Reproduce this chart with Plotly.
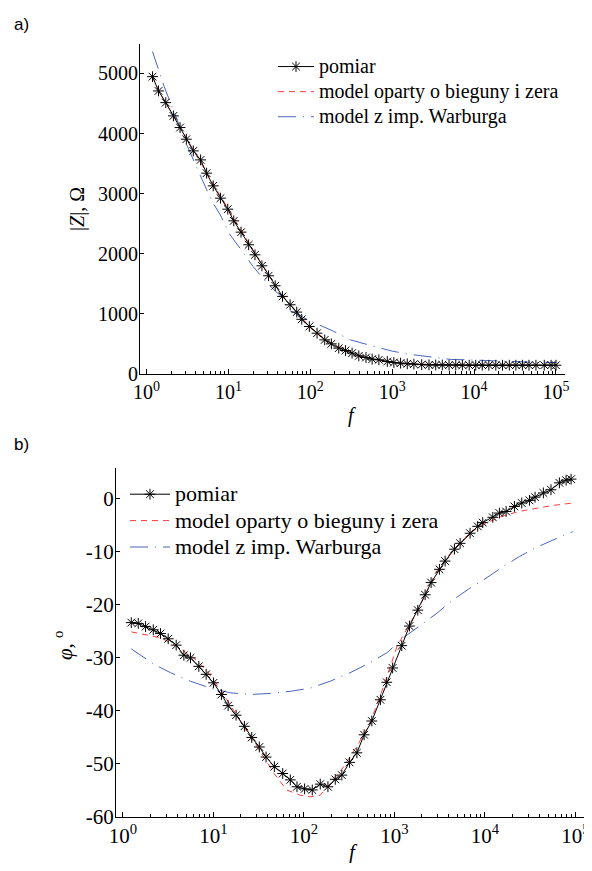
import numpy as np
import plotly.graph_objects as go

# page body has an 8px margin, so the figure is shifted by OFF px
OFF = 8
W, H = 592 - OFF, 871 - 2 * OFF

# ---------------- data: panel a) |Z| ----------------
logf_mag_meas = [0.073, 0.146, 0.235, 0.328, 0.409, 0.486, 0.571, 0.66, 0.733, 0.814,
                 0.903, 0.992, 1.065, 1.154, 1.247, 1.324, 1.409, 1.49, 1.571, 1.66,
                 1.753, 1.834, 1.895, 1.988, 2.082, 2.176, 2.257, 2.347, 2.429, 2.51,
                 2.592, 2.68, 2.755, 2.837, 2.94, 3.02, 3.102, 3.184, 3.265, 3.36,
                 3.449, 3.531, 3.612, 3.694, 3.776, 3.857, 3.94, 4.02, 4.1, 4.18,
                 4.265, 4.347, 4.43, 4.51, 4.59, 4.67, 4.755, 4.857, 4.94, 5.0]
Z_meas = [4947, 4709, 4515, 4294, 4100, 3906, 3712, 3562, 3341, 3130,
          2925, 2742, 2548, 2360, 2150, 1983, 1800, 1634, 1468, 1291,
          1152, 1030, 910, 790, 679, 568, 502, 430, 391, 347,
          302, 275, 247, 236, 208, 191, 180, 169, 164, 156,
          152, 150, 150, 148, 148, 147, 146, 146, 146, 146,
          146, 146, 146, 146, 146, 146, 146, 146, 146, 146]

logf_mag_pz = [0.07, 0.2, 0.4, 0.6, 0.8, 1.0, 1.2, 1.4, 1.6, 1.8, 2.0, 2.2, 2.4,
               2.6, 2.8, 3.0, 3.2, 3.5, 4.0, 4.5, 5.0]
Z_pz = [4950, 4590, 4130, 3650, 3190, 2740, 2290, 1840, 1420, 1070, 780, 555, 410,
        305, 240, 195, 172, 158, 150, 148, 148]

logf_mag_w = [0.073, 0.126, 0.215, 0.287, 0.377, 0.5, 0.68, 0.8, 0.9, 1.02, 1.17,
              1.3, 1.47, 1.66, 1.73, 2.06, 2.27, 2.49, 2.755, 3.0, 3.2, 3.49, 3.72,
              3.96, 4.22, 4.47, 4.7, 5.0]
Z_w = [5363, 5141, 4781, 4532, 4220, 3784, 3230, 2870, 2648, 2316, 2040,
       1790, 1512, 1270, 1066, 845, 720, 568, 468, 380, 330, 280, 242,
       234, 225, 208, 195, 191]

# ---------------- data: panel b) phase ----------------
logf_ph_meas = [0.092, 0.169, 0.25, 0.335, 0.415, 0.5, 0.588, 0.673, 0.746, 0.838,
                0.919, 1.0, 1.088, 1.162, 1.25, 1.342, 1.423, 1.507, 1.581, 1.673,
                1.765, 1.849, 1.923, 2.007, 2.092, 2.18, 2.265, 2.346, 2.419, 2.504,
                2.585, 2.665, 2.75, 2.845, 2.915, 2.98, 3.081, 3.166, 3.258, 3.339,
                3.405, 3.497, 3.56, 3.663, 3.726, 3.836, 3.92, 3.976, 4.087, 4.16,
                4.234, 4.326, 4.407, 4.492, 4.554, 4.646, 4.73, 4.823, 4.897, 4.952]
phi_meas = [-23.35, -23.5, -24.1, -24.7, -25.4, -26.4, -27.6, -29.5, -30.0, -31.6,
            -33.1, -34.7, -36.9, -39.0, -40.8, -42.9, -45.0, -46.8, -48.7, -50.5,
            -51.8, -53.0, -54.3, -54.7, -54.9, -53.8, -54.3, -52.9, -52.1, -49.7,
            -47.9, -44.5, -41.9, -37.9, -34.6, -31.9, -27.7, -24.0, -21.0, -18.1,
            -15.8, -13.3, -11.75, -9.5, -8.4, -6.5, -5.2, -4.5, -3.5, -2.7,
            -2.4, -1.45, -0.8, -0.3, 0.3, 1.1, 1.7, 3.0, 3.5, 3.7]

logf_ph_pz = [0.092, 0.23, 0.415, 0.6, 0.78, 0.93, 1.08, 1.22, 1.37, 1.52, 1.67,
              1.81, 1.96, 2.07, 2.18, 2.29, 2.44, 2.585, 2.73, 2.88, 3.03, 3.09,
              3.276, 3.46, 3.645, 3.83, 4.01, 4.2, 4.38, 4.565, 4.75, 4.97]
phi_pz = [-25.1, -25.6, -26.2, -27.8, -30.0, -32.5, -36.0, -39.8, -43.9, -47.7, -51.8,
          -54.9, -55.9, -56.2, -55.9, -53.7, -50.5, -46.7, -42.3, -35.4, -27.8, -26.0,
          -20.4, -13.8, -9.7, -6.5, -4.6, -3.2, -2.4, -1.8, -1.26, -0.8]

logf_ph_w = [0.092, 0.342, 0.526, 0.746, 0.967, 1.19, 1.41, 1.63, 1.85, 2.07, 2.29,
             2.51, 2.73, 2.92, 3.09, 3.276, 3.46, 3.645, 3.83, 4.01, 4.2, 4.38,
             4.565, 4.75, 4.97]
phi_w = [-28.3, -31.2, -32.8, -34.4, -35.7, -36.6, -36.9, -36.7, -36.3, -35.7, -34.4,
         -32.8, -30.9, -29.0, -26.3, -23.9, -21.7, -19.1, -16.9, -15.0, -12.8, -10.9,
         -9.2, -7.8, -6.2]

legend_names = ["pomiar", "model oparty o bieguny i zera", "model z imp. Warburga"]
xtick_vals = [1, 10, 100, 1000, 10000, 100000]
xtick_text = ["10<sup>0</sup>", "10<sup>1</sup>", "10<sup>2</sup>",
              "10<sup>3</sup>", "10<sup>4</sup>", "10<sup>5</sup>"]
ytick_mag = [0, 1000, 2000, 3000, 4000, 5000]
ytick_mag_text = ["0", "1000", "2000", "3000", "4000", "5000"]
ytick_ph = [-60, -50, -40, -30, -20, -10, 0]
ytick_ph_text = ["-60", "-50", "-40", "-30", "-20", "-10", "0"]

# ---------------- styling ----------------
SERIF = "Liberation Serif, Times New Roman, serif"
SANS = "Liberation Sans, Arial, sans-serif"
BLK = "black"
RED = "#ff3b3b"
BLUE = "#4a64bf"
minor_vals = [m * 10 ** k for k in range(0, 5) for m in range(2, 10)]


def X(p):
    return (p - OFF) / W


def Y(p):
    return 1 - (p - OFF) / H


def f(logs):
    return [10 ** v for v in logs]


def big(txt, size):
    return '<span style="font-size:%dpx">%s</span>' % (size, txt)


fig = go.Figure()


def add_panel(xa, ya, leg, size, lm, ym, lp, yp, lw, yw):
    fig.add_trace(go.Scatter(x=f(lp), y=yp, mode="lines", name=big(legend_names[1], size),
                             line=dict(color=RED, width=1, dash="6px,5px"),
                             xaxis=xa, yaxis=ya, legend=leg, legendrank=2))
    fig.add_trace(go.Scatter(x=f(lw), y=yw, mode="lines", name=big(legend_names[2], size),
                             line=dict(color=BLUE, width=1, dash="18px,7px,1px,7px"),
                             xaxis=xa, yaxis=ya, legend=leg, legendrank=3))
    fig.add_trace(go.Scatter(x=f(lm), y=ym, mode="lines+markers", name=big(legend_names[0], size),
                             line=dict(color=BLK, width=1),
                             marker=dict(symbol="asterisk-open", size=9, color=BLK,
                                         line=dict(color=BLK, width=1)),
                             xaxis=xa, yaxis=ya, legend=leg, legendrank=1))


add_panel("x", "y", "legend", 20, logf_mag_meas, Z_meas, logf_mag_pz, Z_pz, logf_mag_w, Z_w)
add_panel("x2", "y2", "legend2", 22, logf_ph_meas, phi_meas, logf_ph_pz, phi_pz, logf_ph_w, phi_w)

common_x = dict(type="log", showline=True, linecolor=BLK, linewidth=1, ticks="inside",
                ticklen=5, tickcolor=BLK, tickmode="array", tickvals=xtick_vals,
                ticktext=xtick_text, showgrid=False, zeroline=False,
                minor=dict(tickmode="array", tickvals=minor_vals, ticks="inside",
                           ticklen=3, tickcolor=BLK, showgrid=False),
                automargin=False, fixedrange=True, ticklabeloverflow="allow")
common_y = dict(showline=True, linecolor=BLK, linewidth=1, ticks="inside", ticklen=4,
                tickcolor=BLK, tickmode="array", showgrid=False, zeroline=False,
                automargin=False, ticklabelstandoff=-3)

fig.update_layout(
    width=W, height=H, margin=dict(l=0, r=0, t=0, b=0),
    paper_bgcolor="white", plot_bgcolor="white", showlegend=True,
    xaxis=dict(common_x, domain=[X(140), X(565)], range=[-0.08, 5.11], anchor="y",
               tickfont=dict(family=SERIF, size=20, color=BLK)),
    yaxis=dict(common_y, domain=[Y(374), Y(44)], range=[0, 5490],
               tickvals=ytick_mag, ticktext=ytick_mag_text, anchor="x",
               tickfont=dict(family=SERIF, size=20, color=BLK)),
    xaxis2=dict(common_x, domain=[X(116), X(589)], range=[-0.077, 5.15], anchor="y2",
                tickfont=dict(family=SERIF, size=21, color=BLK)),
    yaxis2=dict(common_y, domain=[Y(817), Y(468)], range=[-60, 5.8],
                tickvals=ytick_ph, ticktext=ytick_ph_text, anchor="x2",
                tickfont=dict(family=SERIF, size=21, color=BLK)),
    legend=dict(x=X(273), y=Y(49), xanchor="left", yanchor="top",
                font=dict(family=SERIF, size=17, color=BLK), bgcolor="rgba(0,0,0,0)",
                itemwidth=36, tracegroupgap=0),
    legend2=dict(x=X(125), y=Y(476), xanchor="left", yanchor="top",
                 font=dict(family=SERIF, size=18, color=BLK), bgcolor="rgba(0,0,0,0)",
                 itemwidth=40, tracegroupgap=0),
)

ann = [
    dict(text="a)", x=X(12), y=Y(25), xanchor="left", yanchor="middle",
         font=dict(family=SANS, size=17, color=BLK)),
    dict(text="b)", x=X(12), y=Y(445), xanchor="left", yanchor="middle",
         font=dict(family=SANS, size=17, color=BLK)),
    dict(text="|<i>Z</i>|, Ω", x=X(77), y=Y(209), textangle=-90,
         xanchor="center", yanchor="middle", font=dict(family=SERIF, size=20, color=BLK)),
    dict(text="<i>φ</i>, <sup>o</sup>", x=X(63), y=Y(646), textangle=-90,
         xanchor="center", yanchor="middle", font=dict(family=SERIF, size=21, color=BLK)),
    dict(text="<i>f</i>", x=X(352), y=Y(416), xanchor="center", yanchor="middle",
         font=dict(family=SERIF, size=20, color=BLK)),
    dict(text="<i>f</i>", x=X(353), y=Y(852), xanchor="center", yanchor="middle",
         font=dict(family=SERIF, size=21, color=BLK)),
]
for a in ann:
    a.update(xref="paper", yref="paper", showarrow=False)
fig.update_layout(annotations=ann)

fig.write_html("out.html")
